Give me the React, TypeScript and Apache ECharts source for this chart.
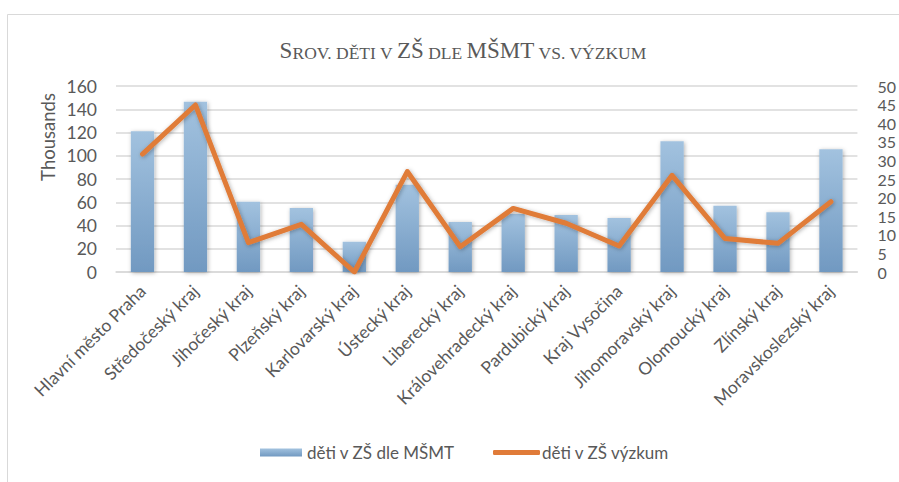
import React, { useEffect, useRef } from "react";
import * as echarts from "echarts";

const categories = [
  "Hlavní město Praha",
  "Středočeský kraj",
  "Jihočeský kraj",
  "Plzeňský kraj",
  "Karlovarský kraj",
  "Ústecký kraj",
  "Liberecký kraj",
  "Královehradecký kraj",
  "Pardubický kraj",
  "Kraj Vysočina",
  "Jihomoravský kraj",
  "Olomoucký kraj",
  "Zlínský kraj",
  "Moravskoslezský kraj",
];

// děti v ZŠ dle MŠMT (thousands, left axis)
const msmtValues = [121, 146.5, 60.5, 55, 26, 75, 43, 50, 49, 46.5, 112.5, 57, 51.5, 105.5];
// děti v ZŠ výzkum (right axis)
const researchValues = [31.7, 44.9, 7.9, 12.8, 0, 27, 6.8, 17.1, 13.1, 7, 26, 9, 7.7, 18.9];

const leftTicks = { min: 0, max: 160, interval: 20 };
const rightTicks = { min: 0, max: 50, interval: 5 };

const seriesNames = ["děti v ZŠ dle MŠMT", "děti v ZŠ výzkum"];

export default function App() {
  const ref = useRef<HTMLDivElement>(null);

  useEffect(() => {
    if (!ref.current) return;
    const chart = echarts.init(ref.current, undefined, { renderer: "svg" });
    const font = "Lato";
    const textColor = "#595959";
    chart.setOption({
      animation: false,
      backgroundColor: "#ffffff",
      title: {
        text: "{a|S}{b|ROV. DĚTI V }{a|ZŠ}{b| DLE }{a|MŠMT}{b| VS. VÝZKUM}",
        left: 458,
        textAlign: "center",
        top: 31,
        textStyle: {
          fontWeight: "normal",
          rich: {
            a: { fontFamily: "Liberation Serif", fontWeight: "normal", fontSize: 23, color: textColor, verticalAlign: "bottom", lineHeight: 26 },
            b: { fontFamily: "Liberation Serif", fontWeight: "normal", fontSize: 17.5, color: textColor, verticalAlign: "bottom", lineHeight: 26 },
          },
        },
      },
      legend: [
        {
          bottom: 16,
          left: 255,
          itemWidth: 42,
          itemHeight: 8,
          textStyle: { fontFamily: font, fontSize: 17, color: textColor },
          data: [{ name: seriesNames[0], icon: "rect" }],
        },
        {
          bottom: 16,
          left: 488,
          itemWidth: 47,
          itemHeight: 5,
          itemGap: 2,
          textStyle: { fontFamily: font, fontSize: 17, color: textColor, padding: [0, 0, 0, -3] },
          data: [{ name: seriesNames[1], icon: "roundRect", itemStyle: { color: "#e07b39" } }],
        },
      ],
      grid: { left: 116, right: 41, top: 86, bottom: 210, containLabel: false },
      xAxis: {
        type: "category",
        data: categories,
        axisTick: { show: false },
        axisLine: { lineStyle: { color: "#d9d9d9", width: 1.5 } },
        axisLabel: {
          rotate: 45,
          interval: 0,
          margin: 16,
          fontFamily: font,
          fontSize: 17.5,
          color: textColor,
        },
      },
      yAxis: [
        {
          type: "value",
          ...leftTicks,
          axisLine: { show: false },
          axisTick: { show: false },
          splitLine: { lineStyle: { color: "#d9d9d9", width: 1.5 } },
          axisLabel: { margin: 19, fontFamily: font, fontSize: 17.5, color: textColor },
        },
        {
          type: "value",
          ...rightTicks,
          position: "right",
          axisLine: { show: false },
          axisTick: { show: false },
          splitLine: { show: false },
          axisLabel: { margin: 20, fontFamily: font, fontSize: 16, lineHeight: 16, color: textColor },
        },
      ],
      graphic: [
        {
          type: "line",
          shape: { x1: 7.5, y1: 14.5, x2: 899, y2: 14.5 },
          style: { stroke: "#d9d9d9", lineWidth: 1 },
        },
        {
          type: "line",
          shape: { x1: 7.5, y1: 14.5, x2: 7.5, y2: 482 },
          style: { stroke: "#d9d9d9", lineWidth: 1 },
        },
        {
          type: "text",
          x: 48,
          y: 137,
          rotation: Math.PI / 2,
          style: {
            text: "Thousands",
            fontFamily: font,
            fontSize: 18.5,
            fill: textColor,
            align: "center",
            verticalAlign: "middle",
          },
        },
      ],
      series: [
        {
          name: seriesNames[0],
          type: "bar",
          yAxisIndex: 0,
          barWidth: "44%",
          data: msmtValues,
          itemStyle: {
            color: new echarts.graphic.LinearGradient(0, 0, 0, 1, [
              { offset: 0, color: "#a2c2df" },
              { offset: 1, color: "#7199c1" },
            ]),
            shadowColor: "rgba(0,0,0,0.3)",
            shadowBlur: 4,
            shadowOffsetX: 1,
            shadowOffsetY: 1,
          },
        },
        {
          name: seriesNames[1],
          type: "line",
          yAxisIndex: 1,
          data: researchValues,
          symbol: "none",
          color: "#e07b39",
          lineStyle: {
            color: "#e07b39",
            width: 5,
            cap: "round",
            join: "round",
            shadowColor: "rgba(0,0,0,0.3)",
            shadowBlur: 4,
            shadowOffsetX: 1,
            shadowOffsetY: 1,
          },
        },
      ],
    });
    return () => chart.dispose();
  }, []);

  return (
    <div
      ref={ref}
      style={{ position: "fixed", left: 0, top: 0, width: 899, height: 482 }}
    />
  );
}
